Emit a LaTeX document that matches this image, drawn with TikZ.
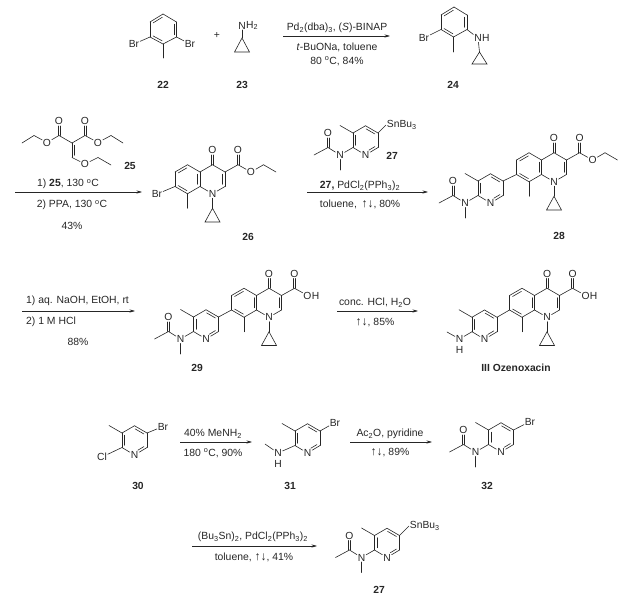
\documentclass[tikz,border=0pt]{standalone}
\usepackage{fontspec}
\setmainfont{Liberation Sans}
\usetikzlibrary{calc,arrows.meta}
\newcommand{\sbs}[1]{\textsubscript{#1}}
\newcommand{\spr}[1]{\textsuperscript{#1}}
\newcommand{\refl}{{\fontsize{12}{12}\selectfont ↑↓}}
\newcommand{\bd}[2]{\draw[bond] (#1) -- (#2);}
% carbonyl: two parallel lines from carbon #1 up to the oxygen node #2
\newcommand{\dbo}[2]{\draw[bond] ($(#1)!1.1pt!90:(#2)$) -- ($(#1)!.66!(#2)!1.1pt!90:(#2)$);\draw[bond] ($(#1)!1.1pt!-90:(#2)$) -- ($(#1)!.66!(#2)!1.1pt!-90:(#2)$);}
% single line plus an inner line on the right-hand side going #1 -> #2
\newcommand{\idb}[2]{\draw[bond] (#1) -- (#2);\draw[bond] ($(#1)!.15!(#2)!2.4pt!-90:(#2)$) -- ($(#2)!.15!(#1)!2.4pt!90:(#1)$);}
\newcommand{\idbn}[2]{\draw[bond] (#1) -- (#2);\draw[bond] ($(#1)!.15!(#2)!2.4pt!-90:(#2)$) -- ($(#2)!.36!(#1)!2.4pt!90:(#1)$);}
\tikzset{
  bond/.style={line width=0.6pt,color=black!85,line cap=round},
  atom/.style={font=\fontsize{10.3}{12}\selectfont,inner sep=0.7pt,text=black!85},
  atomh/.style={atom,anchor=west,xshift=-1.4pt},
  cmpd/.style={font=\fontsize{10.3}{12}\selectfont\bfseries,inner sep=0pt,text=black!85},
  cond/.style={font=\fontsize{10.4}{12}\selectfont,inner sep=0pt,text=black!85},
  rxn/.style={line width=0.6pt,color=black!85,-{Stealth[length=5.5pt,width=3.2pt]}}
}
% quinolone core; origin = C4a
\newcommand{\Quin}[3]{\begin{scope}[shift={(#2,#3)},name prefix=#1-]
  \coordinate (c4a) at (0,0); \coordinate (c8a) at (0,14.5);
  \coordinate (c8) at (-12.5,21.75); \coordinate (c7) at (-25,14.5);
  \coordinate (c6) at (-25,0); \coordinate (c5) at (-12.5,-7.25);
  \coordinate (c4) at (12.5,-7.25); \coordinate (c3) at (25,0);
  \coordinate (c2) at (25,14.5); \node[atom] (n1) at (12.5,21.75) {N};
  \node[atom] (o4) at (12.5,-22) {O};
  \coordinate (me) at (-12.5,36.25); \coordinate (cp1) at (12.5,36.25);
  \coordinate (cp2) at (5,50); \coordinate (cp3) at (20,50);
  \coordinate (cc) at (38,-7.25); \node[atom] (oc) at (38,-22) {O};
  \idb{c4a}{c8a} \bd{c8a}{c8} \idb{c8}{c7} \bd{c7}{c6} \idb{c6}{c5} \bd{c5}{c4a}
  \bd{c4a}{c4} \bd{c4}{c3} \idb{c3}{c2} \bd{c2}{n1} \bd{n1}{c8a}
  \dbo{c4}{o4} \bd{c8}{me} \bd{n1}{cp1}
  \draw[bond] (cp1) -- (cp2) -- (cp3) -- cycle;
  \bd{c3}{cc} \dbo{cc}{oc}
\end{scope}}
\newcommand{\QEster}[3]{\begin{scope}[shift={(#2,#3)},name prefix=#1-]
  \node[atom] (oe) at (51,0) {O}; \coordinate (ch2) at (63.5,-7.25); \coordinate (ch3) at (76,0);
  \bd{cc}{oe} \bd{oe}{ch2} \bd{ch2}{ch3}
\end{scope}}
\newcommand{\QAcid}[3]{\begin{scope}[shift={(#2,#3)},name prefix=#1-]
  \node[atom] (oh) at (51,0) {O}; \node[atomh] (hh) at (oh.east) {H};
  \bd{cc}{oh}
\end{scope}}
% pyridine ring; origin = C5
\newcommand{\PyRing}[3]{\begin{scope}[shift={(#2,#3)},name prefix=#1-]
  \coordinate (c5) at (0,0); \coordinate (c4) at (-12.5,-7.25);
  \coordinate (c3) at (-25,0); \coordinate (c2) at (-25,14.5);
  \node[atom] (n) at (-12.5,22) {N}; \coordinate (c6) at (0,14.5);
  \coordinate (me) at (-38,-7.5);
  \idb{c4}{c5} \bd{c5}{c6} \idbn{c6}{n} \bd{n}{c2} \idb{c2}{c3} \bd{c3}{c4}
  \bd{c3}{me}
\end{scope}}
\newcommand{\PyAmide}[3]{\begin{scope}[shift={(#2,#3)},name prefix=#1-]
  \node[atom] (nam) at (-38,22) {N}; \coordinate (nme) at (-38,37);
  \coordinate (co) at (-50,14.5); \node[atom] (oo) at (-50,0) {O};
  \coordinate (ac) at (-64,22);
  \bd{c2}{nam} \bd{nam}{nme} \bd{nam}{co} \dbo{co}{oo} \bd{co}{ac}
\end{scope}}
\begin{document}
\begin{tikzpicture}[x=1pt,y=-1pt]
\useasboundingbox (0,0) rectangle (624,602);

%% ---- 22
\begin{scope}[name prefix=s22-]
  \coordinate (a) at (163,14); \coordinate (b) at (176.5,22); \coordinate (c) at (176.5,37);
  \coordinate (d) at (163,44); \coordinate (e) at (150,37); \coordinate (f) at (150,22);
  \node[atom] (br1) at (134,44) {Br}; \node[atom] (br2) at (190,44) {Br}; \coordinate (me) at (163,58);
  \idb{f}{a} \bd{a}{b} \idb{b}{c} \bd{c}{d} \idb{d}{e} \bd{e}{f}
  \bd{e}{br1} \bd{c}{br2} \bd{d}{me}
\end{scope}
\node[cmpd] (l22) at (163,85) {22};
\node[cond] (plus) at (217,35) {+};
%% ---- 23
\begin{scope}[name prefix=s23-]
  \node[atom] (n) at (242,25.5) {N}; \node[atomh] (h) at (n.east) {H\sbs{2}};
  \coordinate (c1) at (242,38); \coordinate (c2) at (234.5,52); \coordinate (c3) at (249.5,52);
  \bd{n}{c1} \draw[bond] (c1) -- (c2) -- (c3) -- cycle;
\end{scope}
\node[cmpd] (l23) at (242,85) {23};
%% ---- arrow 1
\coordinate (r1a) at (283,36); \coordinate (r1b) at (390,36);
\draw[rxn] (r1a) -- (r1b);
\node[cond] (t1a) at (337,28) {Pd\sbs{2}(dba)\sbs{3}, (\textit{S})-BINAP};
\node[cond] (t1b) at (337,47) {\textit{t}-BuONa, toluene};
\node[cond] (t1c) at (337,61) {80 \spr{o}C, 84\%};
%% ---- 24
\begin{scope}[name prefix=s24-]
  \coordinate (a) at (454,7); \coordinate (b) at (467,15); \coordinate (c) at (467,29.5);
  \coordinate (d) at (453.5,37); \coordinate (e) at (441,29.5); \coordinate (f) at (441,15);
  \node[atom] (br) at (424,38) {Br}; \coordinate (me) at (453.5,52);
  \node[atom] (n) at (478,38) {N}; \node[atomh] (h) at (n.east) {H};
  \coordinate (c1) at (479.5,52); \coordinate (c2) at (472,64); \coordinate (c3) at (487,64);
  \idb{f}{a} \bd{a}{b} \idb{b}{c} \bd{c}{d} \idb{d}{e} \bd{e}{f}
  \bd{e}{br} \bd{d}{me} \bd{c}{n} \bd{n}{c1}
  \draw[bond] (c1) -- (c2) -- (c3) -- cycle;
\end{scope}
\node[cmpd] (l24) at (453,85) {24};

%% ---- 25
\begin{scope}[name prefix=s25-]
  \coordinate (ch3a) at (22,143); \coordinate (ch2a) at (34,135.5);
  \node[atom] (oa) at (47,142.5) {O}; \coordinate (ca) at (59,135.5); \node[atom] (ooa) at (59,121) {O};
  \coordinate (m) at (72,143); \coordinate (cb) at (85,135.5); \node[atom] (oob) at (85,121) {O};
  \node[atom] (ob) at (98,142.5) {O}; \coordinate (ch2b) at (111,135.5); \coordinate (ch3b) at (123,143);
  \coordinate (v) at (72,157.5); \node[atom] (oc) at (85,164) {O};
  \coordinate (ch2c) at (98,157.5); \coordinate (ch3c) at (111,165);
  \bd{ch3a}{ch2a} \bd{ch2a}{oa} \bd{oa}{ca} \dbo{ca}{ooa} \bd{ca}{m} \bd{m}{cb} \dbo{cb}{oob}
  \bd{cb}{ob} \bd{ob}{ch2b} \bd{ch2b}{ch3b} \idb{v}{m} \bd{v}{oc} \bd{oc}{ch2c} \bd{ch2c}{ch3c}
\end{scope}
\node[cmpd] (l25) at (130,166) {25};
%% ---- arrow 2
\coordinate (r2a) at (15,192); \coordinate (r2b) at (142,192);
\draw[rxn] (r2a) -- (r2b);
\node[cond] (t2a) at (68,184) {1) \textbf{25}, 130 \spr{o}C};
\node[cond] (t2b) at (72,205) {2) PPA, 130 \spr{o}C};
\node[cond] (t2c) at (72,226) {43\%};
%% ---- 26
\Quin{q26}{200}{172}
\QEster{q26}{200}{172}
\node[atom] (br26) at (157,194) {Br};
\draw[bond] (q26-c7) -- (br26);
\node[cmpd] (l26) at (248,237) {26};
%% ---- arrow 3
\coordinate (r3a) at (307,192); \coordinate (r3b) at (428,192);
\draw[rxn] (r3a) -- (r3b);
\node[cond] (t3a) at (360,186) {\textbf{27,} PdCl\sbs{2}(PPh\sbs{3})\sbs{2}};
\node[cond] (t3b) at (360,204) {toluene,\, \refl, 80\%};
%% ---- 27 (top)
\PyRing{p27}{378}{133}
\PyAmide{p27}{378}{133}
\node[atom,anchor=west] (sn27) at (386,125) {SnBu\sbs{3}};
\draw[bond] (p27-c5) -- (sn27.west);
\node[cmpd] (l27) at (392,156) {27};
%% ---- 28
\Quin{q28}{541.5}{160}
\QEster{q28}{541.5}{160}
\PyRing{p28}{503}{181}
\PyAmide{p28}{503}{181}
\draw[bond] (q28-c7) -- (p28-c5);
\node[cmpd] (l28) at (559,236) {28};
%% ---- arrow 4
\coordinate (r4a) at (22,311); \coordinate (r4b) at (135,311);
\draw[rxn] (r4a) -- (r4b);
\node[cond,anchor=west] (t4a) at (26,301) {1) aq. NaOH, EtOH, rt};
\node[cond,anchor=west] (t4b) at (26,322) {2) 1 M HCl};
\node[cond] (t4c) at (78,342) {88\%};
%% ---- 29
\Quin{q29}{256.5}{295.5}
\QAcid{q29}{256.5}{295.5}
\PyRing{p29}{218.5}{317}
\PyAmide{p29}{218.5}{317}
\draw[bond] (q29-c7) -- (p29-c5);
\node[cmpd] (l29) at (197,368) {29};
%% ---- arrow 5
\coordinate (r5a) at (337,311); \coordinate (r5b) at (418,311);
\draw[rxn] (r5a) -- (r5b);
\node[cond] (t5a) at (375,303) {conc. HCl, H\sbs{2}O};
\node[cond] (t5b) at (375,323) {\refl, 85\%};
%% ---- III
\Quin{q3}{534.5}{295.5}
\QAcid{q3}{534.5}{295.5}
\PyRing{p3}{497}{317.25}
\draw[bond] (q3-c7) -- (p3-c5);
\node[atom] (n3) at (459.5,339) {N};
\node[atom] (h3) at (459.5,349.5) {H};
\coordinate (me3) at (447,332);
\draw[bond] (p3-c2) -- (n3);
\draw[bond] (n3) -- (me3);
\node[cmpd] (l3) at (516,368) {III Ozenoxacin};

%% ---- 30
\PyRing{p30}{147}{433}
\node[atom] (cl30) at (102,457) {Cl};
\node[atom] (br30) at (163,426.5) {Br};
\draw[bond] (p30-c2) -- (cl30);
\draw[bond] (p30-c5) -- (br30);
\node[cmpd] (l30) at (138,486) {30};
%% ---- arrow 6
\coordinate (r6a) at (180,442); \coordinate (r6b) at (252,442);
\draw[rxn] (r6a) -- (r6b);
\node[cond] (t6a) at (213,434) {40\% MeNH\sbs{2}};
\node[cond] (t6b) at (213,453) {180 \spr{o}C, 90\%};
%% ---- 31
\PyRing{p31}{320}{431}
\node[atom] (n31) at (278,453) {N};
\node[atom] (h31) at (278,463.5) {H};
\coordinate (me31) at (265,444);
\node[atom] (br31) at (335,422.5) {Br};
\draw[bond] (p31-c2) -- (n31);
\draw[bond] (n31) -- (me31);
\draw[bond] (p31-c5) -- (br31);
\node[cmpd] (l31) at (290,486) {31};
%% ---- arrow 7
\coordinate (r7a) at (350,442); \coordinate (r7b) at (432,442);
\draw[rxn] (r7a) -- (r7b);
\node[cond] (t7a) at (390,434) {Ac\sbs{2}O, pyridine};
\node[cond] (t7b) at (390,453) {\refl, 89\%};
%% ---- 32
\PyRing{p32}{513.5}{430}
\PyAmide{p32}{513.5}{430}
\node[atom] (br32) at (530,421.5) {Br};
\draw[bond] (p32-c5) -- (br32);
\node[cmpd] (l32) at (487,486) {32};
%% ---- arrow 8
\coordinate (r8a) at (192,546); \coordinate (r8b) at (317,546);
\draw[rxn] (r8a) -- (r8b);
\node[cond] (t8a) at (253,537) {(Bu\sbs{3}Sn)\sbs{2}, PdCl\sbs{2}(PPh\sbs{3})\sbs{2}};
\node[cond] (t8b) at (254,557) {toluene, \refl, 41\%};
%% ---- 27 (bottom)
\PyRing{p27b}{399.5}{535.5}
\PyAmide{p27b}{399.5}{535.5}
\node[atom,anchor=west] (sn27b) at (409,526) {SnBu\sbs{3}};
\draw[bond] (p27b-c5) -- (sn27b.west);
\node[cmpd] (l27b) at (379,590) {27};
\end{tikzpicture}
\end{document}
